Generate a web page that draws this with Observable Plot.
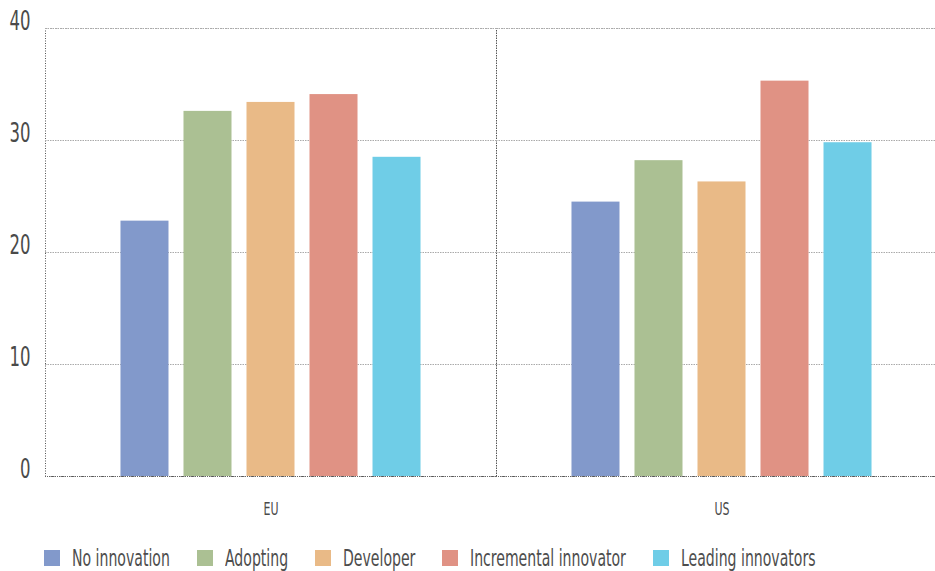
<!DOCTYPE html>
<html><head><meta charset="utf-8">
<script src="https://cdn.jsdelivr.net/npm/d3@7"></script>
<script src="https://cdn.jsdelivr.net/npm/@observablehq/plot@0.6"></script>
<style>
body{margin:0;background:#fff;font-family:"DejaVu Sans Condensed","DejaVu Sans",sans-serif;font-stretch:condensed;overflow:hidden;}
svg text{font-stretch:condensed;}
#legend{display:flex;align-items:center;margin-left:44px;gap:27px;margin-top:14px;color:#4d4d4d;font-size:23px;line-height:28px;white-space:nowrap}
.item{display:flex;align-items:center;gap:12px}
.sw{width:16px;height:16px;flex:none}
.lt{display:inline-block;transform-origin:0 50%}
</style></head><body><div id="chart"></div><div id="legend"></div>
<script>
const regions = ["EU", "US"];
const categories = ["No innovation", "Adopting", "Developer", "Incremental innovator", "Leading innovators"];
const euValues = [22.8, 32.6, 33.4, 34.1, 28.5];
const usValues = [24.5, 28.2, 26.3, 35.3, 29.8];
const colors = ["#8299cb", "#abc093", "#e9ba87", "#e09284", "#6fcde7"];
const yTicks = [0, 10, 20, 30, 40];
const gridTicks = [10, 20, 30, 40];

const data = regions.flatMap((r, i) => categories.map((c, j) => ({region: r, category: c, value: (i ? usValues : euValues)[j]})));

const squeeze = 0.68;
const font = '"DejaVu Sans Condensed","DejaVu Sans",sans-serif';
const chart = Plot.plot({
  width: 935, height: 530,
  marginTop: 28, marginBottom: 54, marginLeft: 44.5, marginRight: 0,
  style: {fontFamily: font, color: "#4a4a4a", background: "#fff", overflow: "hidden"},
  fx: {domain: regions, range: [44.5, 946.5], paddingInner: 0, paddingOuter: 0, axis: null, label: null},
  x: {domain: categories, paddingInner: 0.238, paddingOuter: 1.198, axis: null, round: false},
  y: {domain: [0, 40], axis: null, label: null},
  color: {domain: categories, range: colors},
  marks: [
    Plot.frame({stroke: "#555", strokeDasharray: "1,1.5"}),
    Plot.ruleY(gridTicks, {stroke: "#aaa", strokeDasharray: "1.5,1"}),
    Plot.ruleY([0], {stroke: "#666", strokeDasharray: "1,1"}),
    Plot.barY(data, {fx: "region", x: "category", y: "value", fill: "category"}),
    Plot.axisY(yTicks, {tickSize: 0, tickPadding: 15, dy: -7, fontSize: 27, fill: "#4a4a4a", label: null}),
    Plot.axisFx({anchor: "bottom", tickSize: 0, tickPadding: 26, fontSize: 18, fill: "#4a4a4a", label: null})
  ]
});
// narrow the glyphs horizontally to mimic a condensed typeface
chart.querySelectorAll("text").forEach(t => {
  const tr = t.getAttribute("transform") || "";
  t.setAttribute("transform", tr + ` scale(${squeeze},1)`);
});
document.getElementById("chart").appendChild(chart);

const legend = document.getElementById("legend");
categories.forEach((c, i) => {
  const item = document.createElement("div");
  item.className = "item";
  const sw = document.createElement("span");
  sw.className = "sw";
  sw.style.background = colors[i];
  const t = document.createElement("span");
  t.className = "lt";
  t.textContent = c;
  item.appendChild(sw); item.appendChild(t);
  legend.appendChild(item);
  const w = t.offsetWidth;
  t.style.transform = `scaleX(${squeeze})`;
  t.style.marginRight = `${-(1 - squeeze) * w}px`;
});
</script></body></html>
